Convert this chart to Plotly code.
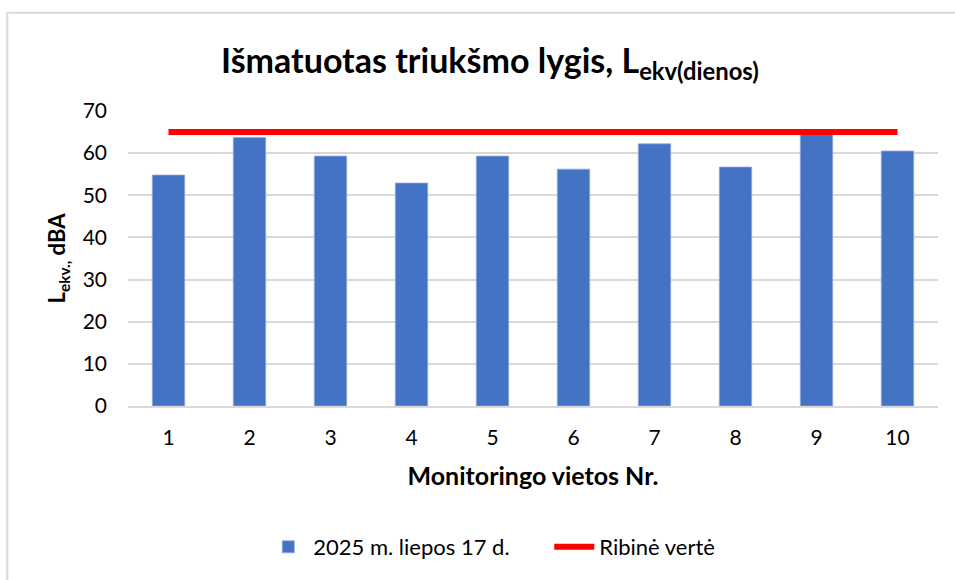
import plotly.graph_objects as go

sites = ["1", "2", "3", "4", "5", "6", "7", "8", "9", "10"]
measured = [54.8, 63.7, 59.3, 52.9, 59.3, 56.2, 62.2, 56.7, 65.6, 60.5]
limit = [65] * len(sites)
y_ticks = [0, 10, 20, 30, 40, 50, 60, 70]

FONT = "Lato, 'Open Sans', sans-serif"

fig = go.Figure()
fig.add_trace(go.Bar(
    x=sites, y=measured, name="2025 m. liepos 17 d.",
    marker=dict(color="#4472C4", line=dict(color="#8EA9DB", width=0.8)),
))
fig.add_trace(go.Scatter(
    x=sites, y=limit, name="Ribinė vertė", mode="lines",
    line=dict(color="#FF0000", width=6),
))

fig.update_layout(
    width=955, height=580,
    margin=dict(l=128, r=17, t=111, b=172),
    paper_bgcolor="white", plot_bgcolor="white",
    font=dict(family=FONT, size=21, color="black"),
    bargap=0.6,
    title=dict(
        text="<b>Išmatuotas triukšmo lygis, L<sub>ekv(dienos)</sub></b>",
        x=0.513, xanchor="center", y=0.895, yanchor="middle", yref="container",
        font=dict(family=FONT, size=34, color="black"),
    ),
    xaxis=dict(
        type="category", showgrid=False, showline=True, linecolor="#D9D9D9", linewidth=1.5,
        ticks="", tickfont=dict(size=21), ticklabelstandoff=12,
        title=dict(text="<b>Monitoringo vietos Nr.</b>", font=dict(size=25), standoff=20),
    ),
    yaxis=dict(
        range=[0, 70], tickvals=y_ticks, showgrid=True, gridcolor="#D9D9D9", gridwidth=1.5,
        zeroline=False, ticks="", tickfont=dict(size=21), ticklabelstandoff=20,
        title=dict(text="<b>L<sub>ekv.,</sub> dBA</b>", font=dict(size=22), standoff=10),
    ),
    legend=dict(
        orientation="h", x=0.167, xanchor="left", y=-0.478, yanchor="middle",
        font=dict(size=22), itemwidth=40, entrywidth=231, traceorder="normal",
    ),
    shapes=[dict(
        type="rect", xref="paper", yref="paper", x0=-0.149, x1=1.2, y0=-0.8, y1=1.333,
        line=dict(color="#D9D9D9", width=2), fillcolor="rgba(0,0,0,0)", layer="below",
    )],
)

fig.write_html("out.html", config={"displayModeBar": False},
               post_script="document.body.style.margin='0';")
